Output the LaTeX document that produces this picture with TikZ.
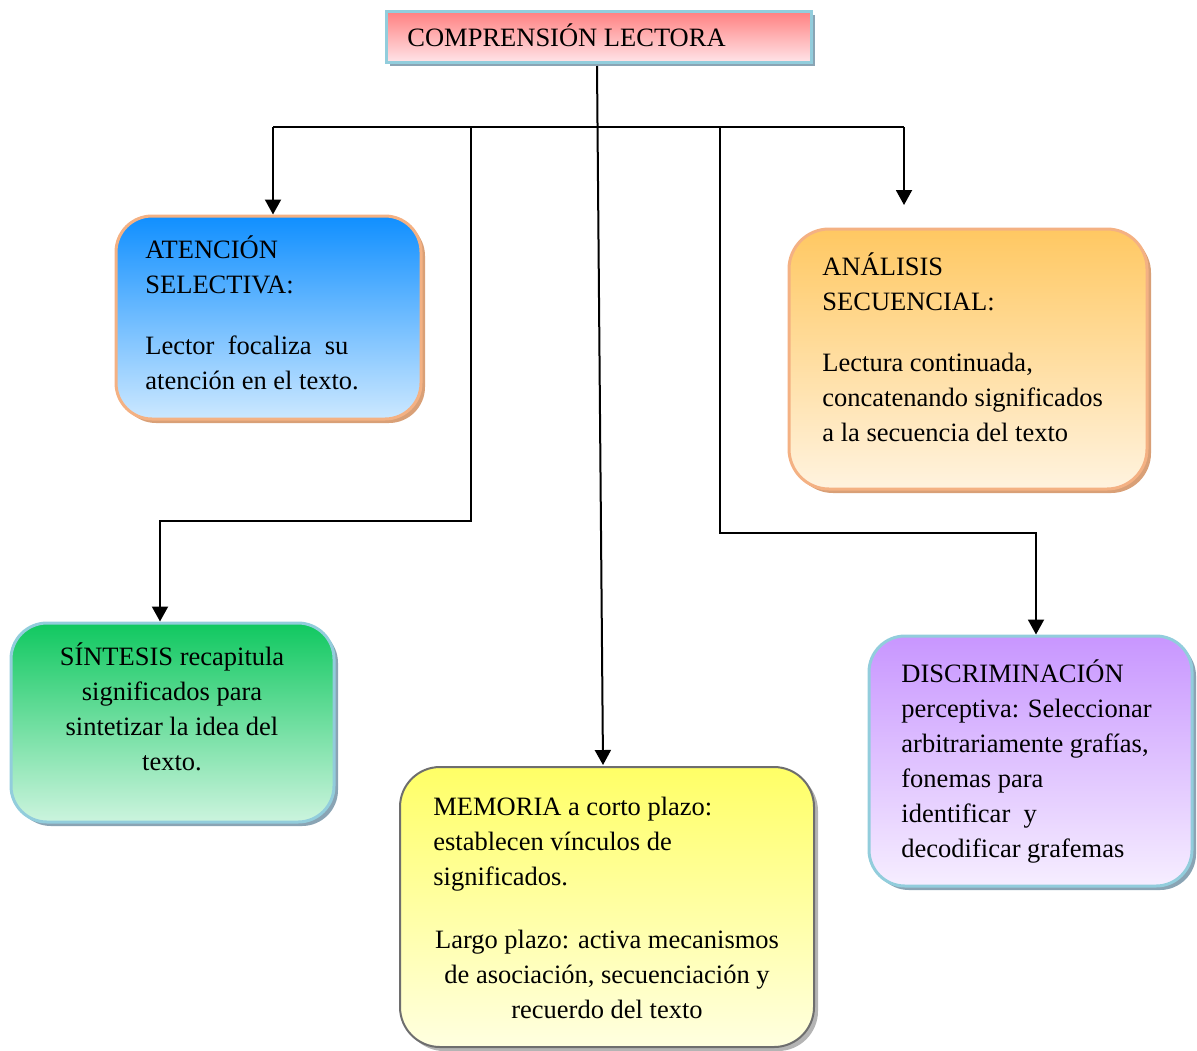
\documentclass[tikz,border=0pt]{standalone}
\usepackage{fontspec}
\setmainfont{Liberation Serif}
\usetikzlibrary{arrows.meta,shadows,calc}
\definecolor{bluebrd}{HTML}{92CDDC}
\definecolor{bluesh}{HTML}{8AA4B4}
\definecolor{peachbrd}{HTML}{F4B183}
\definecolor{peachsh}{HTML}{D9A077}
\definecolor{graybrd}{HTML}{6E6E6E}
\definecolor{graysh}{HTML}{B4B4B4}
\tikzset{
  box/.style={draw, line width=1.5pt, rounded corners=18pt, inner sep=0pt},
  bluebox/.style={box, draw=bluebrd, drop shadow={shadow xshift=2pt, shadow yshift=-2pt, fill=bluesh, opacity=1}},
  peachbox/.style={box, draw=peachbrd, drop shadow={shadow xshift=2pt, shadow yshift=-2pt, fill=peachsh, opacity=1}},
  graybox/.style={box, draw=graybrd, line width=1pt, drop shadow={shadow xshift=2pt, shadow yshift=-2pt, fill=graysh, opacity=1}},
  txt/.style={inner sep=0pt, font=\fontsize{13.25}{17.5}\selectfont},
  arr/.style={line width=1pt, -{Triangle[width=8pt,length=7.5pt]}},
  ln/.style={line width=1pt}
}
\begin{document}
\begin{tikzpicture}[x=0.5pt,y=-0.5pt]
\useasboundingbox (0,0) rectangle (1197,1050);
% title
\node[draw=bluebrd, line width=1.5pt, top color=red!50, bottom color={rgb,255:red,255;green,228;blue,232},
      minimum width=212.5pt, minimum height=25.5pt, inner sep=0pt,
      drop shadow={shadow xshift=2pt, shadow yshift=-2pt, fill=bluesh, opacity=1}] (title) at (598.5,36.5) {};
\node[txt, anchor=base west] (titletxt) at (407,46) {COMPRENSIÓN LECTORA};
% boxes
\node[peachbox, top color={rgb,255:red,16;green,143;blue,255}, bottom color={rgb,255:red,204;green,232;blue,255},
      minimum width=152.5pt, minimum height=101.5pt] (aten) at (268.5,317.5) {};
\node[peachbox, top color={rgb,255:red,255;green,200;blue,98}, bottom color={rgb,255:red,255;green,243;blue,223},
      minimum width=179pt, minimum height=130pt, rounded corners=20pt] (anal) at (968,359) {};
\node[bluebox, top color={rgb,255:red,16;green,200;blue,96}, bottom color={rgb,255:red,204;green,244;blue,222},
      minimum width=161.5pt, minimum height=99.5pt] (sint) at (172.5,722.5) {};
\node[graybox, top color={rgb,255:red,255;green,255;blue,102}, bottom color={rgb,255:red,255;green,255;blue,224},
      minimum width=207pt, minimum height=140pt, rounded corners=20pt] (mem) at (607,907) {};
\node[bluebox, top color={rgb,255:red,200;green,150;blue,255}, bottom color={rgb,255:red,246;green,238;blue,255},
      minimum width=161.5pt, minimum height=125pt] (disc) at (1030.5,761) {};
% texts
\node[txt, anchor=north west, align=left] (atentxt) at (145,233.5)
  {\strut ATENCIÓN\\ SELECTIVA:\\[13pt] Lector\ \ focaliza\ \ su\\ atención en el texto.};
\node[txt, anchor=north west, align=left] (analtxt) at (822,250.5)
  {\strut ANÁLISIS\\ SECUENCIAL:\\[13pt] Lectura continuada,\\ concatenando significados\\ a la secuencia del texto};
\node[txt, anchor=north, align=center] (sinttxt) at (172,640.5)
  {\strut SÍNTESIS recapitula\\ significados para\\ sintetizar la idea del\\ texto.};
\node[txt, anchor=north west, align=left] (memtxt1) at (433,790.5)
  {\strut MEMORIA a corto plazo:\\ establecen vínculos de\\ significados.};
\node[txt, anchor=north, align=center] (memtxt2) at (607,923.5)
  {\strut Largo plazo: activa mecanismos\\ de asociación, secuenciación y\\ recuerdo del texto};
\node[txt, anchor=north west, align=left] (disctxt) at (901,657.5)
  {\strut DISCRIMINACIÓN\\ perceptiva: Seleccionar\\ arbitrariamente grafías,\\ fonemas para\\ identificar\ \ y\\ decodificar grafemas};
% connectors
\coordinate (tB) at (597,66);
\coordinate (hL) at (273,127);
\coordinate (hR) at (904,127);
\coordinate (h2) at (471,127);
\coordinate (h3) at (720,127);
\coordinate (k2) at (471,521);
\coordinate (k2b) at (160,521);
\coordinate (k3) at (720,533);
\coordinate (k3b) at (1036,533);
\coordinate (aR) at (904,205);
\draw[arr] (tB) -- ($(mem.north)+(-4,-1)$);
\draw[ln] (hL) -- (hR);
\draw[arr] (hL) -- (hL |- aten.north);
\draw[arr] (hR) -- (aR);
\draw[arr] (h2) -- (k2) -- (k2b) -- (k2b |- sint.north);
\draw[arr] (h3) -- (k3) -- (k3b) -- (k3b |- disc.north);
\end{tikzpicture}
\end{document}
